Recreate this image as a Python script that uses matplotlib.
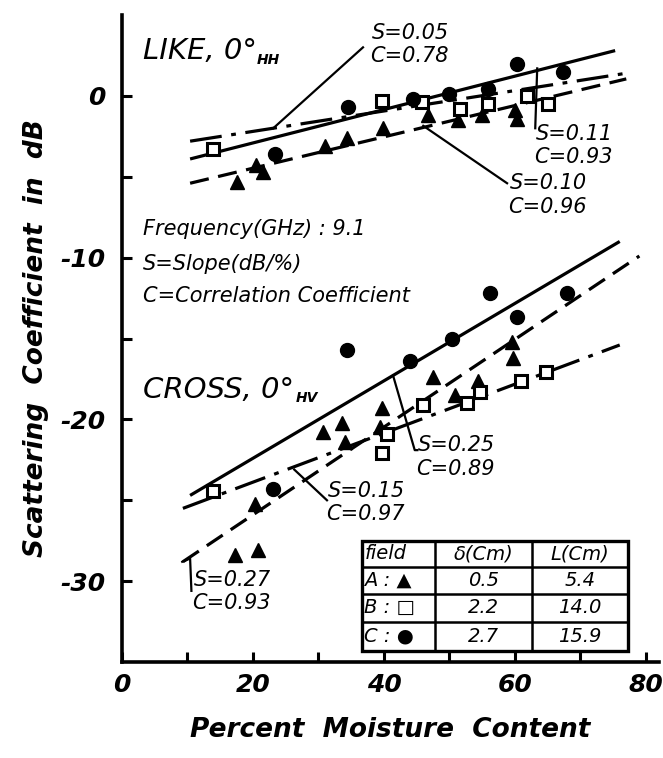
import matplotlib
matplotlib.use("Agg")
import matplotlib.pyplot as plt
from matplotlib.patches import Rectangle

plt.rcParams["font.family"] = ["DejaVu Sans"]
plt.rcParams["axes.unicode_minus"] = False

# ---- LIKE (HH) measurements ----
like_a_x = [17.5, 20.5, 21.5, 31.0, 34.4, 39.8, 46.7, 51.3, 55.0, 60.0, 60.3]
like_a_y = [-5.3, -4.3, -4.7, -3.1, -2.6, -2.0, -1.2, -1.5, -1.2, -0.9, -1.4]
like_b_x = [13.9, 39.7, 45.8, 51.6, 55.9, 61.8, 65.0]
like_b_y = [-3.3, -0.3, -0.4, -0.8, -0.5, 0.0, -0.5]
like_c_x = [23.4, 34.5, 44.4, 50.0, 55.9, 60.3, 67.3]
like_c_y = [-3.6, -0.7, -0.2, 0.1, 0.4, 2.0, 1.5]

# regression lines (end points)
like_fit_c = ([10.4, 75.3], [-3.9, 2.8])   # S=0.11
like_fit_b = ([10.4, 77.0], [-2.8, 1.4])   # S=0.05
like_fit_a = ([10.4, 77.0], [-5.4, 1.05])  # S=0.10

# ---- CROSS (HV) measurements ----
cross_a_x = [17.3, 20.8, 20.3, 30.7, 33.6, 34.0, 39.4, 39.7, 47.5, 50.8, 54.4, 59.5, 59.7]
cross_a_y = [-28.4, -28.1, -25.2, -20.8, -20.2, -21.4, -20.5, -19.3, -17.4, -18.5, -17.6, -15.2, -16.2]
cross_b_x = [13.9, 39.7, 40.5, 46.0, 52.7, 54.7, 61.0, 64.7]
cross_b_y = [-24.4, -22.1, -20.9, -19.1, -19.0, -18.3, -17.6, -17.1]
cross_c_x = [23.1, 34.4, 44.0, 50.4, 56.2, 60.3, 68.0]
cross_c_y = [-24.3, -15.7, -16.4, -15.0, -12.2, -13.7, -12.2]

cross_fit_c = ([10.4, 76.0], [-24.7, -9.0])   # S=0.25
cross_fit_b = ([9.3, 76.0], [-25.5, -15.4])   # S=0.15
cross_fit_a = ([9.3, 79.0], [-28.8, -9.9])    # S=0.27

# annotation labels: text, label position, leader line
stat_labels = [
    ("S=0.05", "C=0.78", (38.2, 3.9), ([23.1, 36.8], [-2.0, 3.0])),
    ("S=0.11", "C=0.93", (63.2, -2.35), ([63.4, 63.1], [1.7, -2.0])),
    ("S=0.10", "C=0.96", (59.2, -5.4), ([46.0, 58.8], [-1.85, -5.4])),
    ("S=0.25", "C=0.89", (45.2, -21.6), ([41.4, 44.7, 45.1], [-17.3, -21.9, -21.9])),
    ("S=0.15", "C=0.97", (31.5, -24.4), ([26.3, 31.3], [-23.1, -25.0])),
    ("S=0.27", "C=0.93", (11.0, -29.9), ([9.2, 10.4, 10.6], [-28.8, -28.6, -30.6])),
]

table_rows = [["field", "\u03b4(Cm)", "L(Cm)"],
              ["A : \u25b2", "0.5", "5.4"],
              ["B : \u25a1", "2.2", "14.0"],
              ["C : \u25cf", "2.7", "15.9"]]

fig = plt.figure(figsize=(6.63, 7.58), dpi=100)
ax = fig.add_axes([0.184, 0.1266, 0.810, 0.8536])

lw = 2.3
dash = (0, (6, 3))
dashdot = (0, (10, 3, 1.5, 3))

for fit_c, fit_b, fit_a in [(like_fit_c, like_fit_b, like_fit_a),
                            (cross_fit_c, cross_fit_b, cross_fit_a)]:
    ax.plot(*fit_c, color="black", lw=lw, solid_capstyle="butt")
    ax.plot(*fit_b, color="black", lw=lw, linestyle=dashdot)
    ax.plot(*fit_a, color="black", lw=lw, linestyle=dash)

for xs, ys in [(like_a_x, like_a_y), (cross_a_x, cross_a_y)]:
    ax.plot(xs, ys, "^", color="black", ms=10, ls="none", zorder=3)
for xs, ys in [(like_b_x, like_b_y), (cross_b_x, cross_b_y)]:
    ax.plot(xs, ys, "s", mfc="white", mec="black", mew=2.2, ms=8, ls="none", zorder=3)
for xs, ys in [(like_c_x, like_c_y), (cross_c_x, cross_c_y)]:
    ax.plot(xs, ys, "o", color="black", ms=10, ls="none", zorder=3)

for s_txt, c_txt, (tx, ty), (lx, ly) in stat_labels:
    ax.plot(lx, ly, color="black", lw=1.6)
    ax.text(tx, ty, s_txt, fontsize=15, style="italic", va="center", ha="left")
    ax.text(tx - 0.3, ty - 1.45, c_txt, fontsize=15, style="italic", va="center", ha="left")

# headings
ax.text(3.2, 2.8, "LIKE, 0\u00b0", fontsize=21, style="italic", va="center")
ax.text(20.5, 2.2, "HH", fontsize=10, style="italic", weight="bold", va="center")
ax.text(3.2, -18.2, "CROSS, 0\u00b0", fontsize=21, style="italic", va="center")
ax.text(26.5, -18.7, "HV", fontsize=10, style="italic", weight="bold", va="center")
ax.text(3.2, -8.2, "Frequency(GHz) : 9.1", fontsize=15, style="italic", va="center")
ax.text(3.2, -10.4, "S=Slope(dB/%)", fontsize=15, style="italic", va="center")
ax.text(3.2, -12.35, "C=Correlation Coefficient", fontsize=15, style="italic", va="center")

# field table
col_x = [36.6, 47.8, 62.6, 77.3]
row_y = [-27.5, -29.1, -30.8, -32.5, -34.3]
ax.add_patch(Rectangle((col_x[0], row_y[-1]), col_x[-1] - col_x[0], row_y[0] - row_y[-1],
                       fill=False, lw=2.4, color="black", zorder=4))
for cx in col_x[1:-1]:
    ax.plot([cx, cx], [row_y[0], row_y[-1]], color="black", lw=1.8, zorder=4)
for ry in row_y[1:-1]:
    ax.plot([col_x[0], col_x[-1]], [ry, ry], color="black", lw=1.8, zorder=4)
for i, row in enumerate(table_rows):
    yc = (row_y[i] + row_y[i + 1]) / 2
    for j, cell in enumerate(row):
        if j == 0:
            ax.text(col_x[0] + 0.4, yc, cell, fontsize=14, style="italic",
                    va="center", ha="left", zorder=5)
        else:
            ax.text((col_x[j] + col_x[j + 1]) / 2, yc, cell, fontsize=14,
                    style="italic", va="center", ha="center", zorder=5)

ax.set_xlim(0, 82)
ax.set_ylim(-35, 5)
for side in ["top", "right"]:
    ax.spines[side].set_visible(False)
for side in ["left", "bottom"]:
    ax.spines[side].set_linewidth(2.6)

ax.set_xticks([0, 20, 40, 60, 80])
ax.set_xticks([10, 30, 50, 70], minor=True)
ax.set_yticks([0, -10, -20, -30])
ax.set_yticks([-5, -15, -25], minor=True)
ax.tick_params(which="both", direction="in", length=7, width=2.2, labelsize=18)
ax.tick_params(axis="y", pad=12)
ax.tick_params(axis="x", pad=8)
for lab in ax.get_xticklabels() + ax.get_yticklabels():
    lab.set_style("italic")
    lab.set_weight("bold")

ax.set_xlabel("Percent  Moisture  Content", fontsize=19, style="italic",
              weight="bold", labelpad=14)
ax.set_ylabel("Scattering  Coefficient  in  dB", fontsize=19, style="italic",
              weight="bold", labelpad=8)

fig.savefig("out.png", dpi=100)
